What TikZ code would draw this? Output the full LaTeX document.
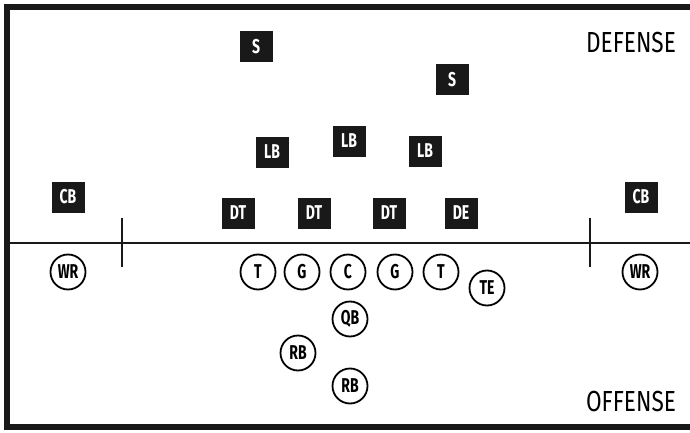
\documentclass[tikz,border=0pt]{standalone}
\usepackage{fontspec}
\setmainfont{Fira Sans}[FakeStretch=0.78]
\newfontfamily\labelfont{Fira Sans}[FakeStretch=0.7,UprightFont={* Bold}]
\begin{document}
\begin{tikzpicture}[x=1pt,y=-1pt,
    defender/.style={fill=black!90,text=white,inner sep=0pt,minimum width=33pt,minimum height=31pt,
      font=\labelfont\fontsize{20}{20}\selectfont},
    attacker/.style={circle,draw,line width=1.8pt,inner sep=0pt,minimum size=35pt,
      font=\labelfont\fontsize{20}{20}\selectfont},
    side/.style={font=\fontsize{29}{29}\selectfont}]
  \useasboundingbox (0,0) rectangle (690,433);
  % frame, open on the right
  \draw[line width=6pt,black!90] (700,7) -- (7,7) -- (7,427) -- (700,427);
  % line of scrimmage and hash marks
  \coordinate (los west) at (7,243);
  \coordinate (los east) at (690,243);
  \draw[line width=2.4pt,black!90] (los west) -- (los east);
  \draw[line width=2pt,black!90] (122,218) -- (122,267);
  \draw[line width=2pt,black!90] (590,218) -- (590,267);
  \node[side] (defense) at (631,43) {DEFENSE};
  \node[side] (offense) at (631,402) {OFFENSE};
  % defense
  \node[defender] (s1) at (256,47) {S};
  \node[defender] (s2) at (452,80) {S};
  \node[defender] (lb1) at (272,152) {LB};
  \node[defender] (lb2) at (349,141) {LB};
  \node[defender] (lb3) at (425,151) {LB};
  \node[defender] (cb1) at (68,197) {CB};
  \node[defender] (cb2) at (641,197) {CB};
  \node[defender] (dt1) at (238,213) {DT};
  \node[defender] (dt2) at (314,213) {DT};
  \node[defender] (dt3) at (389,213) {DT};
  \node[defender] (de) at (461,213) {DE};
  % offense
  \node[attacker] (wr1) at (68,272) {WR};
  \node[attacker] (wr2) at (640,272) {WR};
  \node[attacker] (lt) at (258,272) {T};
  \node[attacker] (lg) at (302,272) {G};
  \node[attacker] (c) at (348,272) {C};
  \node[attacker] (rg) at (395,272) {G};
  \node[attacker] (rt) at (441,272) {T};
  \node[attacker] (te) at (487,288) {TE};
  \node[attacker] (qb) at (350,319) {QB};
  \node[attacker] (rb1) at (298,353) {RB};
  \node[attacker] (rb2) at (350,386) {RB};
\end{tikzpicture}
\end{document}
